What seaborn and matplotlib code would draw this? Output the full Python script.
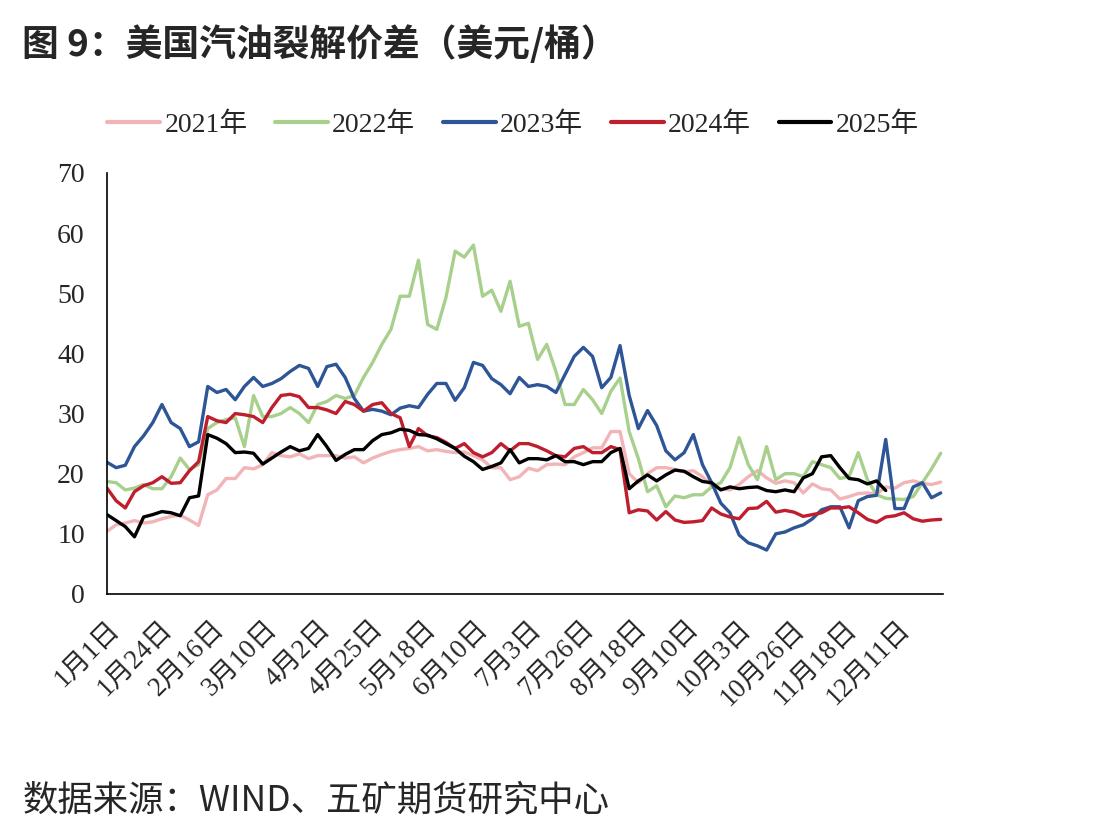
import numpy as np
import pandas as pd
import matplotlib
matplotlib.use('Agg')
import matplotlib.pyplot as plt
import seaborn as sns

# day-of-year positions of the sampled points (every 4 days)
days = list(range(0, 365, 4))

s2021 = [10.4, 11.5, 11.8, 12.2, 11.8, 12.0, 12.5, 12.9, 13.1, 12.3, 11.4, 16.5, 17.3, 19.2, 19.2, 21.0,
         20.8, 21.5, 23.5, 23.0, 22.8, 23.3, 22.5, 23.0, 23.0, 23.0, 22.6, 22.8, 21.8, 22.6, 23.2,
         23.7, 24.0, 24.2, 24.5, 23.8, 24.0, 23.7, 23.5, 23.6, 23.0, 22.3, 21.0, 21.0, 19.0, 19.5,
         20.9, 20.5, 21.5, 21.6, 21.5, 22.8, 23.5, 24.3, 24.3, 27.0, 27.0, 20.0, 18.5, 20.0, 21.0,
         21.0, 20.7, 20.3, 20.5, 19.5, 18.0, 17.5, 17.3, 18.2, 19.5, 20.5, 19.3, 18.4, 18.8, 18.5, 16.8,
         18.3, 17.5, 17.3, 15.8, 16.2, 16.7, 16.8, 16.6, 17.8, 17.6, 18.5, 18.8, 18.4, 18.2, 18.6]

s2022 = [18.7, 18.5, 17.3, 17.6, 18.2, 17.5, 17.5, 19.5, 22.6, 20.7, 21.5, 27.5, 28.5, 29.0, 29.3, 24.5,
         33.0, 29.5, 29.5, 30.0, 31.0, 30.0, 28.5, 31.5, 32.0, 33.0, 32.5, 33.0, 36.0, 38.5, 41.5,
         44.0, 49.5, 49.5, 55.5, 44.8, 44.0, 49.3, 57.0, 56.0, 58.0, 49.5, 50.5, 47.0, 52.0, 44.5,
         45.0, 39.0, 41.5, 37.0, 31.5, 31.5, 34.0, 32.3, 30.0, 33.7, 35.9, 27.0, 22.5, 17.0, 18.0,
         14.5, 16.3, 16.0, 16.5, 16.5, 17.8, 18.5, 21.0, 26.0, 21.5, 19.0, 24.5, 19.0, 20.0, 20.0, 19.5,
         22.0, 21.5, 21.0, 19.2, 19.5, 23.5, 19.0, 16.5, 15.9, 15.8, 15.7, 16.2, 18.5, 20.8, 23.4]

s2023 = [21.9, 21.0, 21.4, 24.5, 26.3, 28.5, 31.5, 28.5, 27.5, 24.5, 25.3, 34.5, 33.5, 34.0, 32.3, 34.5,
         36.0, 34.5, 35.0, 35.8, 37.0, 38.0, 37.5, 34.5, 37.8, 38.2, 36.0, 32.5, 30.4, 30.7, 30.4,
         29.8, 30.9, 31.3, 31.0, 33.2, 35.0, 35.0, 32.2, 34.3, 38.5, 38.0, 35.8, 34.8, 33.3, 36.0,
         34.5, 34.8, 34.5, 33.5, 36.5, 39.5, 41.0, 39.5, 34.3, 36.0, 41.3, 33.0, 27.5, 30.5, 28.0,
         23.8, 22.3, 23.5, 26.5, 21.5, 18.5, 15.1, 13.5, 9.8, 8.5, 8.0, 7.3, 10.0, 10.3, 11.0, 11.5,
         12.5, 14.0, 14.5, 14.5, 11.0, 15.5, 16.2, 16.4, 25.7, 14.2, 14.2, 17.8, 18.5, 16.0, 16.8]

s2024 = [17.6, 15.5, 14.3, 17.0, 18.0, 18.5, 19.5, 18.4, 18.5, 20.5, 22.0, 29.5, 28.8, 28.5, 30.0, 29.8,
         29.5, 28.5, 31.0, 33.0, 33.2, 32.8, 31.0, 31.0, 30.6, 30.0, 32.0, 31.5, 30.4, 31.5, 31.8,
         30.0, 29.3, 24.5, 27.5, 26.3, 26.0, 25.2, 24.2, 25.0, 23.5, 22.8, 23.5, 25.0, 23.8, 25.0,
         25.0, 24.5, 23.8, 23.0, 22.8, 24.2, 24.5, 23.5, 23.5, 24.5, 24.0, 13.5, 14.0, 13.8, 12.3,
         13.7, 12.3, 11.9, 12.0, 12.2, 14.3, 13.3, 12.8, 12.5, 14.2, 14.3, 15.4, 13.6, 13.9, 13.6, 12.9,
         13.2, 13.5, 14.3, 14.3, 14.5, 13.5, 12.4, 11.9, 12.8, 13.0, 13.5, 12.5, 12.1, 12.3, 12.4]

s2025 = [13.2, 12.2, 11.2, 9.5, 12.8, 13.2, 13.7, 13.5, 13.0, 16.0, 16.3, 26.5, 25.9, 25.0, 23.5, 23.6,
         23.4, 21.6, 22.6, 23.6, 24.5, 23.8, 24.2, 26.5, 24.5, 22.2, 23.2, 24.0, 24.0, 25.5, 26.5,
         26.8, 27.4, 27.2, 26.5, 26.4, 25.8, 25.0, 24.2, 22.9, 22.0, 20.7, 21.2, 21.8, 24.0, 21.8,
         22.5, 22.5, 22.3, 23.0, 22.0, 22.0, 21.5, 22.0, 22.0, 23.5, 24.2, 17.5, 18.8, 19.8, 18.8,
         19.8, 20.6, 20.4, 19.5, 18.7, 18.5, 17.3, 17.8, 17.5, 17.7, 17.8, 17.2, 17.0, 17.3, 17.0, 19.3,
         20.0, 22.8, 23.0, 21.0, 19.2, 19.0, 18.3, 18.8, 17.2, np.nan, np.nan, np.nan, np.nan, np.nan, np.nan]

years = ['2021年', '2022年', '2023年', '2024年', '2025年']
colors = ['#F2B4B6', '#A8D08D', '#2E5596', '#BE1E2D', '#000000']

tick_days = [0, 23, 46, 69, 92, 115, 138, 161, 184, 207, 230, 253, 276, 299, 322, 345]
tick_labels = ['1月1日', '1月24日', '2月16日', '3月10日', '4月2日', '4月25日', '5月18日', '6月10日',
               '7月3日', '7月26日', '8月18日', '9月10日', '10月3日', '10月26日', '11月18日', '12月11日']

df = pd.DataFrame({'day': days, '2021年': s2021, '2022年': s2022, '2023年': s2023,
                   '2024年': s2024, '2025年': s2025})
long = df.melt(id_vars='day', var_name='year', value_name='value').dropna()

sns.set_style('white')
plt.rcParams['font.family'] = ['Liberation Serif', 'Noto Sans CJK SC']
plt.rcParams['axes.unicode_minus'] = False

fig = plt.figure(figsize=(11.19, 8.38), dpi=100)
ax = fig.add_axes([0.0956, 0.2912, 0.7471, 0.5024])

sns.lineplot(data=long, x='day', y='value', hue='year', hue_order=years,
             palette=dict(zip(years, colors)), linewidth=2.4, estimator=None, ax=ax)

ax.set_xlim(0, 365)
ax.set_ylim(0, 70)
ax.set_yticks(range(0, 71, 10))
ax.set_xticks(tick_days)
ax.set_xticklabels(tick_labels, rotation=45, ha='right', rotation_mode='anchor')
ax.set_xticks(range(0, 366, 30), minor=True)
ax.tick_params(axis='x', which='major', length=0, pad=16, labelsize=19.5)
ax.tick_params(axis='x', which='minor', length=6, width=1.1, direction='out')
ax.tick_params(axis='y', length=6, width=1.1, direction='out', pad=10, labelsize=20)
ax.set_xlabel('')
ax.set_ylabel('')
for side in ['top', 'right']:
    ax.spines[side].set_visible(False)
for side in ['left', 'bottom']:
    ax.spines[side].set_linewidth(1.2)
    ax.spines[side].set_color('black')

handles, labels = ax.get_legend_handles_labels()
leg = ax.legend(handles, labels, ncol=5, frameon=False, loc='center left',
                bbox_to_anchor=(0.096, 0.851), bbox_transform=fig.transFigure,
                fontsize=20, handlelength=1.9, handletextpad=0.15, columnspacing=1.0,
                borderpad=0, borderaxespad=0)
for line in leg.get_lines():
    line.set_linewidth(3)

fig.text(0.02, 0.97, '图 9：美国汽油裂解价差（美元/桶）', fontsize=26.5, fontweight='bold',
         family=['Noto Sans CJK SC'], va='top', ha='left')
fig.text(0.02, 0.045, '数据来源：WIND、五矿期货研究中心', fontsize=25.5,
         family=['Noto Sans CJK SC'], va='center', ha='left')

fig.savefig('out.png', dpi=100)
